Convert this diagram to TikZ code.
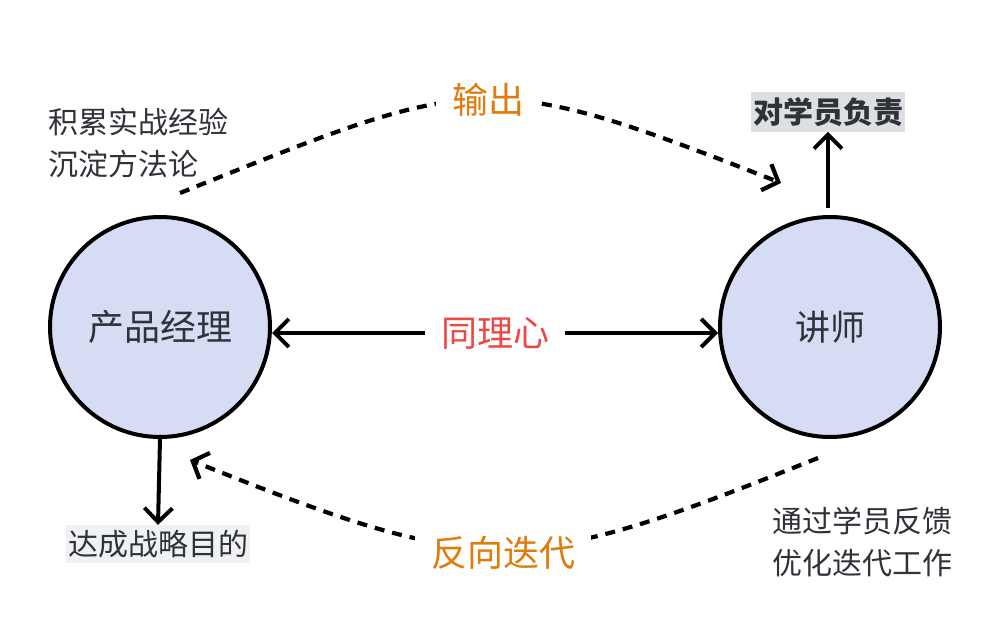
\documentclass[tikz,border=0pt]{standalone}
\usepackage{fontspec}
\setmainfont{Noto Sans CJK SC}
\usetikzlibrary{arrows.meta}
\definecolor{circfill}{HTML}{D6DCF3}
\definecolor{txtgray}{HTML}{2F3238}
\definecolor{orangelab}{HTML}{E07B0C}
\definecolor{redlab}{HTML}{EE4545}
\definecolor{boxgray}{HTML}{DEDFE2}
\definecolor{boxlight}{HTML}{F0F1F3}
\tikzset{
  role/.style={circle,draw=black,line width=4pt,fill=circfill,minimum size=220pt,inner sep=0pt,
    text=txtgray,font=\fontsize{35}{40}\selectfont},
  solidarrow/.style={line width=4pt,-{Straight Barb[length=14pt,width=28pt,line width=4pt]}},
  dasharrow/.style={line width=4.2pt,dash pattern=on 10pt off 8pt,-{Straight Barb[length=13pt,width=28pt,line width=4.2pt]}},
  midlabel/.style={fill=white,inner xsep=16pt,inner ysep=4pt,font=\fontsize{36}{40}\selectfont},
  sidetext/.style={text=txtgray,font=\fontsize{30}{42}\selectfont,align=left,anchor=north west,inner sep=0pt},
  tagbox/.style={text=txtgray,font=\fontsize{30}{34}\selectfont,inner xsep=2pt,inner ysep=5pt}
}
\begin{document}
\begin{tikzpicture}[x=1pt,y=-1pt]
\useasboundingbox (0,0) rectangle (998,634);
% circles
\node[role,font=\fontsize{36}{40}\selectfont] (pm) at (160,327) {产品经理};
\node[role] (tc) at (830,327) {讲师};
% center label and arrows
\node[font=\fontsize{36}{40}\selectfont,text=redlab,inner xsep=16pt] (em) at (495,333) {同理心};
\draw[solidarrow] (em.west) -- (pm.east |- em.west);
\draw[solidarrow] (em.east) -- (tc.west |- em.east);
% top dashed curve
\coordinate (ts) at (180,193);
\coordinate (te) at (781,183);
\draw[dasharrow] (ts) .. controls (477,74) and (483,66) .. (te);
\node[midlabel,text=orangelab] (out) at (488,100) {输出};
% bottom dashed curve
\coordinate (bs) at (818,458);
\coordinate (be) at (190,460);
\draw[dasharrow] (bs) .. controls (521,577) and (487,579) .. (be);
\node[midlabel,text=orangelab] (rev) at (503,553) {反向迭代};
% tags
\node[tagbox,fill=boxgray,font=\bfseries\fontsize{30}{34}\selectfont] (resp) at (828,112) {对学员负责};
\node[tagbox,fill=boxlight] (goal) at (158,544) {达成战略目的};
\coordinate (tup) at (828,208);
\draw[solidarrow] (tup) -- (resp.south);
\draw[solidarrow] (pm.south) -- (goal.north);
% side texts
\node[sidetext] (lt) at (48,108) {积累实战经验\\沉淀方法论};
\node[sidetext] (rt) at (772,507) {通过学员反馈\\优化迭代工作};
\end{tikzpicture}
\end{document}
